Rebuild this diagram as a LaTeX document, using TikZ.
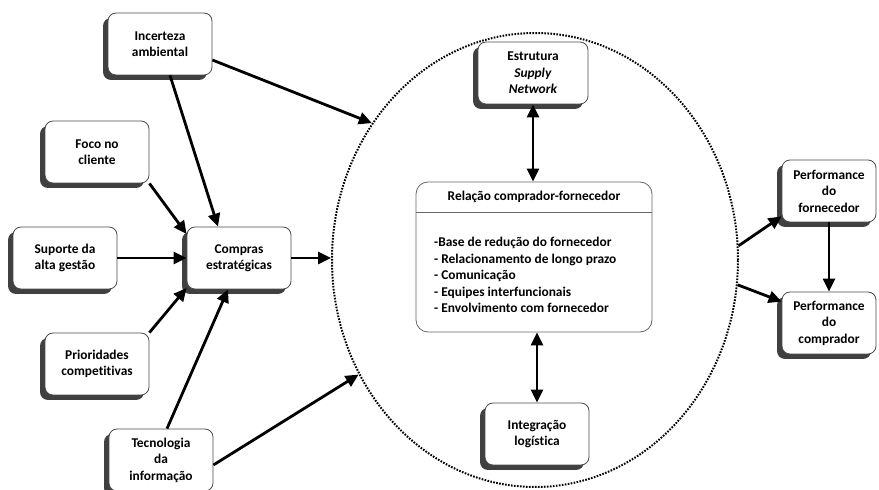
\documentclass[tikz,border=0pt]{standalone}
\usepackage{fontspec}
\setmainfont{Carlito}[Ligatures=NoCommon]
\usetikzlibrary{arrows.meta,positioning,shadows,shapes.geometric}

\begin{document}
\begin{tikzpicture}[
  x=1pt, y=1pt,
  font=\fontsize{13.4}{16.5}\selectfont\bfseries,
  box/.style={draw=black!70, line width=0.8pt, rounded corners=8pt, fill=white,
              align=center, minimum width=104pt, minimum height=62pt, inner sep=2pt,
              drop shadow={shadow xshift=-5pt, shadow yshift=-5pt, fill=black!75, opacity=1}},
  relbox/.style={draw=black!60, line width=0.8pt, rounded corners=12pt, fill=white,
                 minimum width=236pt, minimum height=150pt},
  dots/.style={draw, line width=2pt, dash pattern=on 1.6pt off 1.4pt},
  arrow/.style={-{Triangle[length=13pt,width=12pt]}, line width=2.8pt},
  dblarrow/.style={{Triangle[length=13pt,width=12pt]}-{Triangle[length=13pt,width=12pt]}, line width=2.8pt}
]
\useasboundingbox (0,0) rectangle (879,490);
\node[ellipse, dots, minimum width=406pt, minimum height=454pt, inner sep=0pt] (ell) at (535,230) {};
% inputs
\node[box] (inc) at (160,446) {Incerteza\\ambiental};
\node[box] (foco) at (97,338) {Foco no\\cliente};
\node[box] (sup) at (65,232) {Suporte da\\alta gestão};
\node[box] (comp) at (239,232) {Compras\\estratégicas};
\node[box] (prio) at (97,126) {Prioridades\\competitivas};
\node[box] (tec) at (161,30) {Tecnologia\\da\\informação};
% inside the ellipse
\node[box, minimum width=110pt] (est) at (533,417) {Estrutura\\\textit{Supply}\\\textit{Network}};
\node[relbox] (rel) at (534,233) {};
\node (relhead) at ([yshift=-15.5pt]rel.north) {Relação comprador-fornecedor};
\draw[black!60, line width=0.8pt] ([yshift=-31pt]rel.north west) -- ([yshift=-31pt]rel.north east);
\node[align=left, anchor=west, inner sep=0pt] (rellist) at (434,215)
  {-Base de redução do fornecedor\\- Relacionamento de longo prazo\\- Comunicação\\- Equipes interfuncionais\\- Envolvimento com fornecedor};
\node[box] (integ) at (537,56) {Integração\\logística};
% outputs
\node[box, minimum width=94pt] (pf) at (829,299) {Performance\\do\\fornecedor};
\node[box, minimum width=94pt] (pc) at (829,167) {Performance\\do\\comprador};
% connectors
\draw[arrow] ([yshift=-16pt]inc.east) -- (ell.140);
\draw[arrow] ([xshift=10pt]inc.south) -- ([xshift=-21pt]comp.north);
\draw[arrow] (foco.south east) -- ([yshift=24pt]comp.west);
\draw[arrow] (sup) -- (comp);
\draw[arrow] (prio.north east) -- ([yshift=-30pt]comp.west);
\draw[arrow] ([xshift=6pt]tec.north) -- ([xshift=-11pt]comp.south);
\draw[arrow] ([yshift=-5pt]tec.east) -- (ell.213);
\draw[arrow] (comp.east) -- (comp.east -| ell.west);
\draw[dblarrow] (est.south) -- (est.south |- rel.north);
\draw[dblarrow] (rel.south -| integ.north) -- (integ.north);
\draw[arrow] (ell.4) -- ([yshift=6pt]pf.south west);
\draw[arrow] (ell.-7) -- ([yshift=-10pt]pc.north west);
\draw[arrow] (pf) -- (pc);
\end{tikzpicture}
\end{document}
